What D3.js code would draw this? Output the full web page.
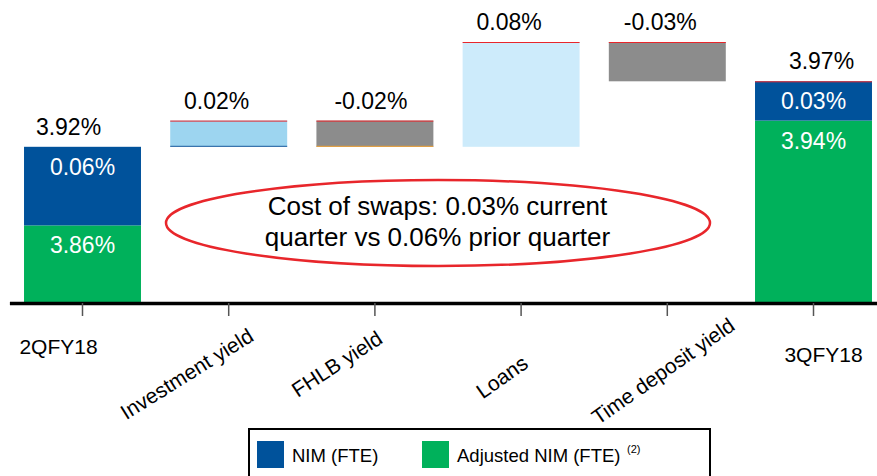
<!DOCTYPE html>
<html>
<head>
<meta charset="utf-8">
<script src="https://cdn.jsdelivr.net/npm/d3@7"></script>
<style>
  html, body { margin: 0; padding: 0; background: #fff; }
  svg { display: block; font-family: "Liberation Sans", Arial, sans-serif; }
</style>
</head>
<body>
<svg id="chart"></svg>
<script>
// data
var categories = ["2QFY18", "Investment yield", "FHLB yield", "Loans", "Time deposit yield", "3QFY18"];
var changes = [null, 0.02, -0.02, 0.08, -0.03, null];
var nimTotals = [3.92, null, null, null, null, 3.97];
var adjustedNim = [3.86, null, null, null, null, 3.94];
var swapCost = [0.06, null, null, null, null, 0.03];
var valueLabels = ["3.92%", "0.02%", "-0.02%", "0.08%", "-0.03%", "3.97%"];
var legendItems = ["NIM (FTE)", "Adjusted NIM (FTE)"];
var noteLines = ["Cost of swaps: 0.03% current", "quarter vs 0.06% prior quarter"];

var width = 877;
var height = 476;
var baseY = 303;

// layout tweaks to sit labels where the slide has them
var valueNudge = [-14, -12, -4, -12, -7, 8];
var catNudge = [-24, -38, -34, -15, 0, 10];
var catBase = [354, 380, 370, 383, 377, 362];
var catAngle = [0, -32, -33, -35, -35, 0];

var blue = "#00529b";
var green = "#00b15b";
var red = "#e8262b";
var floatFill = [null, "#9dd5f0", "#8c8c8c", "#cdebfb", "#8c8c8c", null];
var floatBottom = [null, "#1d5a9c", "#f0a030", null, null, null];

// running waterfall positions
var rows = [];
var level = nimTotals[0];
categories.forEach(function(c, i) {
  if (changes[i] === null) {
    rows.push({cat: c, total: nimTotals[i], adj: adjustedNim[i], swap: swapCost[i], i: i});
    level = nimTotals[i];
  } else {
    var start = level;
    level = +(level + changes[i]).toFixed(4);
    rows.push({cat: c, lo: Math.min(start, level), hi: Math.max(start, level), i: i});
  }
});

var svg = d3.select("#chart")
            .attr("width", width)
            .attr("height", height);

var x = d3.scaleBand()
          .domain(categories)
          .range([9.4, 886.6])
          .paddingInner(0.2)
          .paddingOuter(0.1);

var y = d3.scaleLinear()
          .domain([3.80, 4.00])
          .range([304, 42]);

var totals = rows.filter(d => d.lo === undefined);
var floats = rows.filter(d => d.lo !== undefined);

// stacked end bars
svg.selectAll("rect.adj")
    .data(totals)
    .enter()
    .append("rect")
      .attr("class", "adj")
      .attr("x", d => x(d.cat))
      .attr("y", d => y(d.adj))
      .attr("width", x.bandwidth())
      .attr("height", d => y(3.80) - y(d.adj))
      .attr("fill", green);

svg.selectAll("rect.swap")
    .data(totals)
    .enter()
    .append("rect")
      .attr("class", "swap")
      .attr("x", d => x(d.cat))
      .attr("y", d => y(d.total))
      .attr("width", x.bandwidth())
      .attr("height", d => y(d.adj) - y(d.total))
      .attr("fill", blue);

// floating change bars
svg.selectAll("rect.float")
    .data(floats)
    .enter()
    .append("rect")
      .attr("class", "float")
      .attr("x", d => x(d.cat))
      .attr("y", d => y(d.hi))
      .attr("width", x.bandwidth())
      .attr("height", d => y(d.lo) - y(d.hi))
      .attr("fill", d => floatFill[d.i]);

svg.selectAll("line.bottom")
    .data(floats.filter(d => floatBottom[d.i]))
    .enter()
    .append("line")
      .attr("class", "bottom")
      .attr("x1", d => x(d.cat))
      .attr("x2", d => x(d.cat) + x.bandwidth())
      .attr("y1", d => y(d.lo) - 0.5)
      .attr("y2", d => y(d.lo) - 0.5)
      .attr("stroke", d => floatBottom[d.i])
      .attr("stroke-width", 1);

// red top lines (all but the first bar)
svg.selectAll("line.top")
    .data(rows.filter(d => d.i > 0))
    .enter()
    .append("line")
      .attr("class", "top")
      .attr("x1", d => x(d.cat))
      .attr("x2", d => x(d.cat) + x.bandwidth())
      .attr("y1", d => y(d.hi !== undefined ? d.hi : d.total) + 0.5)
      .attr("y2", d => y(d.hi !== undefined ? d.hi : d.total) + 0.5)
      .attr("stroke", red)
      .attr("stroke-width", 1);

// value labels above bars
svg.selectAll("text.val")
    .data(rows)
    .enter()
    .append("text")
      .attr("class", "val")
      .attr("x", d => x(d.cat) + x.bandwidth() / 2 + valueNudge[d.i])
      .attr("y", d => y(d.hi !== undefined ? d.hi : d.total) - 12)
      .attr("text-anchor", "middle")
      .attr("font-size", 23)
      .attr("fill", "#000")
      .text(d => valueLabels[d.i]);

// labels inside the end bars
svg.selectAll("text.inSwap")
    .data(totals)
    .enter()
    .append("text")
      .attr("x", d => x(d.cat) + x.bandwidth() / 2)
      .attr("y", d => y(d.total) + 28)
      .attr("text-anchor", "middle")
      .attr("font-size", 23)
      .attr("fill", "#fff")
      .text(d => d.swap.toFixed(2) + "%");

svg.selectAll("text.inAdj")
    .data(totals)
    .enter()
    .append("text")
      .attr("x", d => x(d.cat) + x.bandwidth() / 2)
      .attr("y", d => y(d.adj) + 28)
      .attr("text-anchor", "middle")
      .attr("font-size", 23)
      .attr("fill", "#fff")
      .text(d => d.adj.toFixed(2) + "%");

// axis
var xAxis = d3.axisBottom(x)
              .tickSize(13)
              .tickSizeOuter(0)
              .tickFormat("");

var ax = svg.append("g")
    .attr("transform", "translate(0," + baseY + ")")
    .call(xAxis);
ax.select(".domain")
    .attr("stroke", "#000")
    .attr("stroke-width", 3.3);
ax.selectAll(".tick line")
    .attr("stroke", "#555")
    .attr("stroke-width", 1.5);

// category labels
svg.selectAll("text.cat")
    .data(categories)
    .enter()
    .append("text")
      .attr("class", "cat")
      .attr("transform", (d, i) => "translate(" + (x(d) + x.bandwidth() / 2 + catNudge[i]) + "," + catBase[i] + ") rotate(" + catAngle[i] + ")")
      .attr("text-anchor", "middle")
      .attr("font-size", 21)
      .attr("fill", "#000")
      .text(d => d);

// callout ellipse
svg.append("ellipse")
    .attr("cx", 438)
    .attr("cy", 223)
    .attr("rx", 272)
    .attr("ry", 43)
    .attr("fill", "none")
    .attr("stroke", red)
    .attr("stroke-width", 2.5);

svg.selectAll("text.note")
    .data(noteLines)
    .enter()
    .append("text")
      .attr("x", 437.5)
      .attr("y", (d, i) => 215 + i * 31)
      .attr("text-anchor", "middle")
      .attr("font-size", 26)
      .attr("fill", "#000")
      .text(d => d);

// legend
var legend = svg.append("g");
legend.append("rect")
    .attr("x", 249)
    .attr("y", 429)
    .attr("width", 461)
    .attr("height", 70)
    .attr("fill", "#fff")
    .attr("stroke", "#000")
    .attr("stroke-width", 2);

var legendX = [257, 422];
[blue, green].forEach(function(c, i) {
  legend.append("rect")
      .attr("x", legendX[i])
      .attr("y", 441)
      .attr("width", 27)
      .attr("height", 27)
      .attr("fill", c);
  legend.append("text")
      .attr("x", legendX[i] + 35)
      .attr("y", 462)
      .attr("font-size", 18.5)
      .attr("fill", "#000")
      .text(legendItems[i]);
});
legend.append("text")
    .attr("x", 627)
    .attr("y", 453)
    .attr("font-size", 11)
    .attr("fill", "#000")
    .text("(2)");
</script>
</body>
</html>
